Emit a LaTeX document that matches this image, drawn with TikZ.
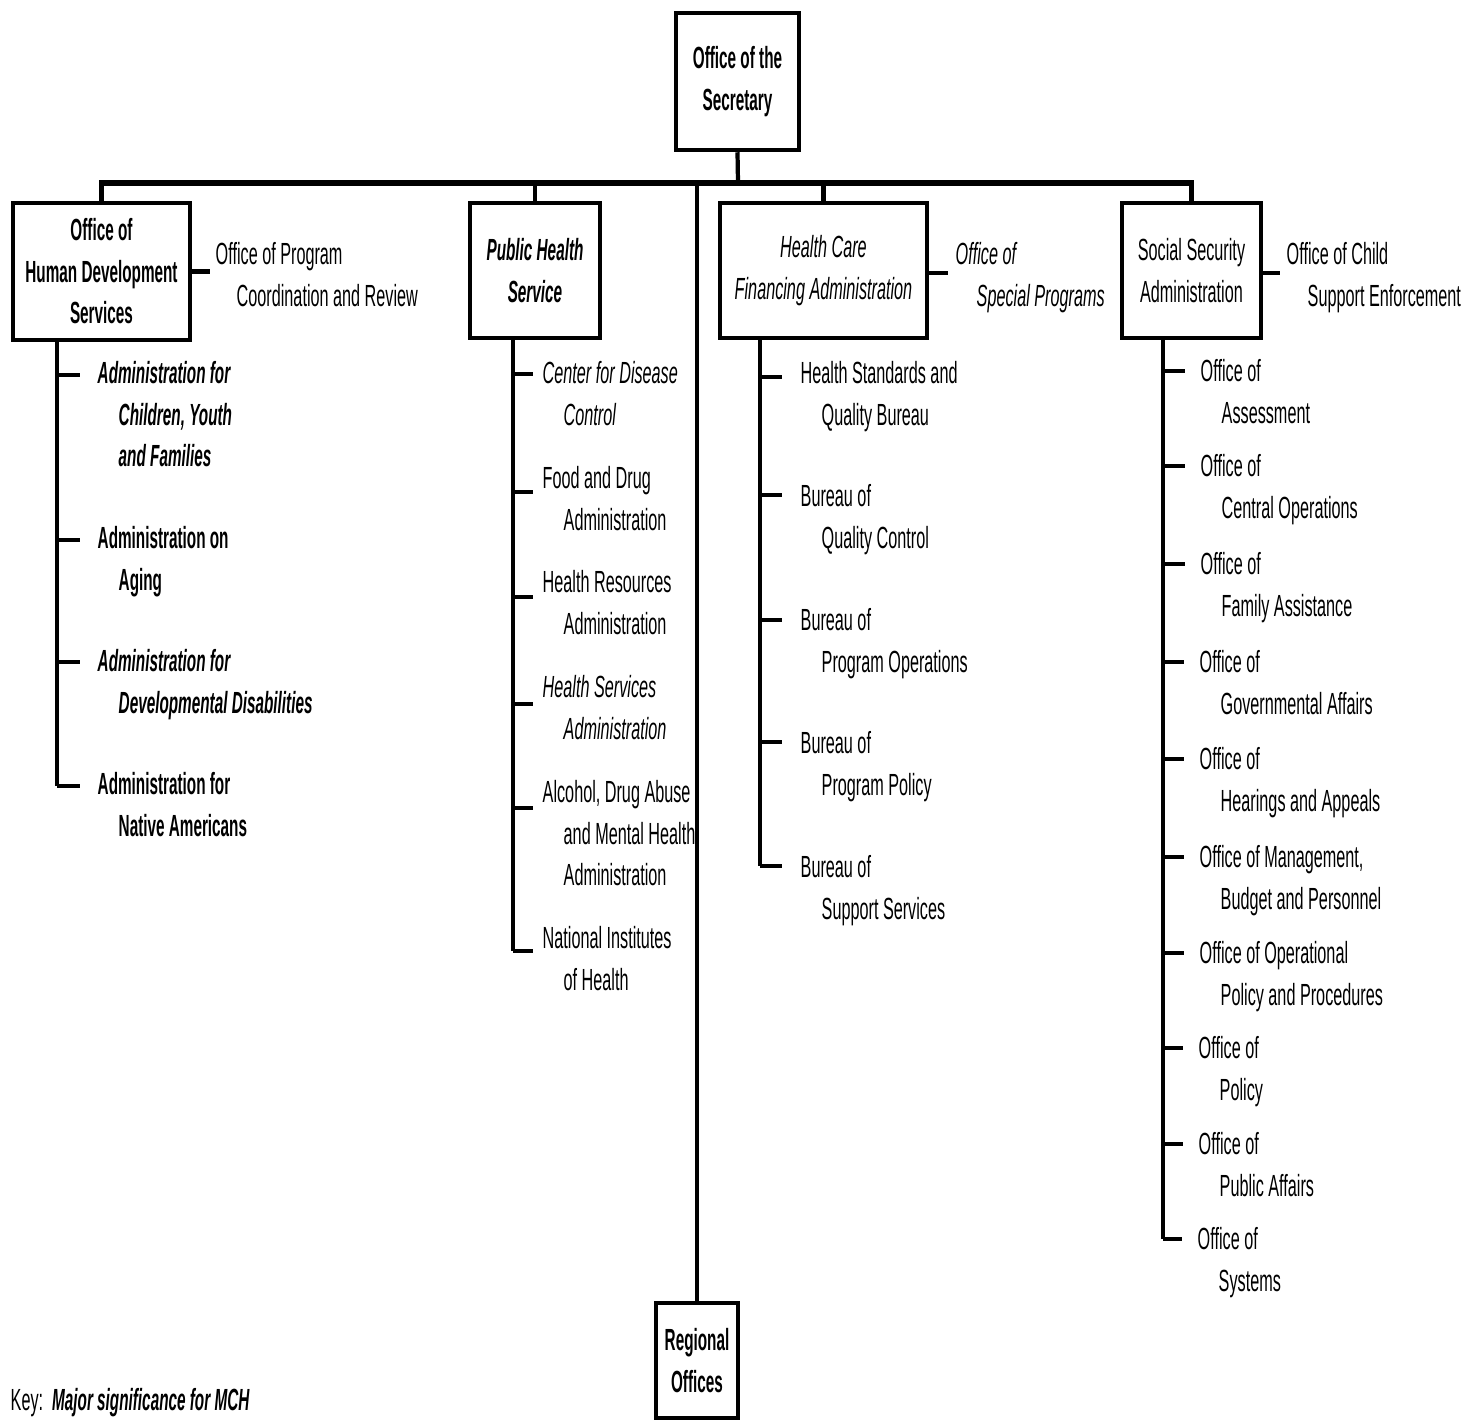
\documentclass[tikz,border=0pt]{standalone}
\usepackage{fontspec}
\setmainfont[FakeStretch=0.53,
  BoldFeatures={FakeStretch=0.5},
  BoldItalicFeatures={FakeStretch=0.5}]{Liberation Sans}
\usetikzlibrary{calc}
\newcommand\fs{\fontsize{8.7}{11.8}\selectfont}
\newcommand\ind{\hspace*{2.1mm}}
% tick from trunk to item: #1 item node, #2 trunk coordinate, #3 x offset, #4 y offset
\newcommand\kidtick[4]{%
  \coordinate (#1-t) at ($(#1.north west)+(#3,#4)$);
  \draw[listline] (#2 |- #1-t) -- (#1-t);}
\begin{document}
\begin{tikzpicture}[x=0.01cm, y=-0.01cm, font=\fs,
  box/.style={draw, line width=1.25pt, align=center, inner sep=0pt},
  lbl/.style={anchor=north west, align=left, inner sep=0pt},
  bf/.style={font=\fs\bfseries},
  it/.style={font=\fs\itshape},
  bi/.style={font=\fs\bfseries\itshape},
  conn/.style={line width=1.2pt},
  barline/.style={line width=1.5pt},
  listline/.style={line width=1pt}]
\fill[white] (0,0) rectangle (1470,1420);
\useasboundingbox (0,0) rectangle (1470,1420);

% top-level boxes
\node[box, bf, minimum width=1.23cm, minimum height=1.37cm] (sec) at (737.5,81.5) {Office of the\\Secretary};
\node[box, bf, minimum width=1.77cm, minimum height=1.37cm] (hds) at (101.5,271.5) {Office of\\Human Development\\Services};
\node[box, bi, minimum width=1.30cm, minimum height=1.35cm] (phs) at (535,270.5) {Public Health\\Service};
\node[box, it, minimum width=2.07cm, minimum height=1.35cm] (hcfa) at (823.5,270.5) {Health Care\\Financing Administration};
\node[box, minimum width=1.39cm, minimum height=1.35cm] (ssa) at (1191.5,270.5) {Social Security\\Administration};
\node[box, bf, minimum width=0.82cm, minimum height=1.15cm] (reg) at (697,1360.5) {Regional\\Offices};

% main connectors
\coordinate (bar) at (738,183);
\draw[conn] (sec.south) -- (bar);
\draw[barline] (hds.north) |- (bar) -| (ssa.north);
\draw[conn] (phs.north) -- (phs.north |- bar);
\draw[conn] (hcfa.north) -- (hcfa.north |- bar);
\draw[conn] (reg.north) -- (reg.north |- bar);

% side offices
\node[lbl] (opcr) at (215,242) {Office of Program\\\ind Coordination and Review};
\node[lbl, it] (osp) at (955,242) {Office of\\\ind Special Programs};
\node[lbl] (ocse) at (1286,242) {Office of Child\\\ind Support Enforcement};
\draw[conn] (hds.east) -- ([xshift=-0.05cm]hds.east -| opcr.west);
\draw[conn] ([yshift=-0.025cm]hcfa.east) -- ([xshift=-0.07cm,yshift=-0.025cm]hcfa.east -| osp.west);
\draw[conn] ([yshift=-0.025cm]ssa.east) -- ([xshift=-0.06cm,yshift=-0.025cm]ssa.east -| ocse.west);

% HDS list
\coordinate (hdsT) at ($(hds.south)+(-44.5,0)$);
\node[lbl, bi] (h1) at (97,361) {Administration for\\\ind Children, Youth\\\ind and Families};
\node[lbl, bf] (h2) at (97,526) {Administration on\\\ind Aging};
\node[lbl, bi] (h3) at (97,649) {Administration for\\\ind Developmental Disabilities};
\node[lbl, bf] (h4) at (97,772) {Administration for\\\ind Native Americans};
\kidtick{h1}{hdsT}{-17}{14}
\kidtick{h2}{hdsT}{-17}{14}
\kidtick{h3}{hdsT}{-17}{13}
\kidtick{h4}{hdsT}{-17}{14}
\draw[listline] (hdsT) -- (hdsT |- h4-t);

% PHS list
\coordinate (phsT) at ($(phs.south)+(-22,0)$);
\node[lbl, it] (p1) at (542,361) {Center for Disease\\\ind Control};
\node[lbl] (p2) at (542,466) {Food and Drug\\\ind Administration};
\node[lbl] (p3) at (542,570) {Health Resources\\\ind Administration};
\node[lbl, it] (p4) at (542,675) {Health Services\\\ind Administration};
\node[lbl] (p5) at (542,780) {Alcohol, Drug Abuse\\\ind and Mental Health\\\ind Administration};
\node[lbl] (p6) at (542,926) {National Institutes\\\ind of Health};
\kidtick{p1}{phsT}{-9}{13}
\kidtick{p2}{phsT}{-9}{26}
\kidtick{p3}{phsT}{-9}{27}
\kidtick{p4}{phsT}{-9}{29}
\kidtick{p5}{phsT}{-9}{28}
\kidtick{p6}{phsT}{-9}{25}
\draw[listline] (phsT) -- (phsT |- p6-t);

% HCFA list
\coordinate (hcfaT) at ($(hcfa.south)+(-63.5,0)$);
\node[lbl] (f1) at (800,361) {Health Standards and\\\ind Quality Bureau};
\node[lbl] (f2) at (800,484) {Bureau of\\\ind Quality Control};
\node[lbl] (f3) at (800,608) {Bureau of\\\ind Program Operations};
\node[lbl] (f4) at (800,731) {Bureau of\\\ind Program Policy};
\node[lbl] (f5) at (800,855) {Bureau of\\\ind Support Services};
\kidtick{f1}{hcfaT}{-18}{16}
\kidtick{f2}{hcfaT}{-18}{11}
\kidtick{f3}{hcfaT}{-18}{12}
\kidtick{f4}{hcfaT}{-18}{11}
\kidtick{f5}{hcfaT}{-18}{11}
\draw[listline] (hcfaT) -- (hcfaT |- f5-t);

% SSA list
\coordinate (ssaT) at ($(ssa.south)+(-28.5,0)$);
\node[lbl] (s1) at (1200,359) {Office of\\\ind Assessment};
\node[lbl] (s2) at (1200,454) {Office of\\\ind Central Operations};
\node[lbl] (s3) at (1200,552) {Office of\\\ind Family Assistance};
\node[lbl] (s4) at (1199,650) {Office of\\\ind Governmental Affairs};
\node[lbl] (s5) at (1199,747) {Office of\\\ind Hearings and Appeals};
\node[lbl] (s6) at (1199,845) {Office of Management,\\\ind Budget and Personnel};
\node[lbl] (s7) at (1199,941) {Office of Operational\\\ind Policy and Procedures};
\node[lbl] (s8) at (1198,1036) {Office of\\\ind Policy};
\node[lbl] (s9) at (1198,1132) {Office of\\\ind Public Affairs};
\node[lbl] (s10) at (1197,1227) {Office of\\\ind Systems};
\foreach \s in {s1,s2,s3,s4,s5,s6,s7,s8,s9,s10}{\kidtick{\s}{ssaT}{-15}{12}}
\draw[listline] (ssaT) -- (ssaT |- s10-t);

% key
\node[anchor=west, inner sep=0pt] (key) at (10,1403) {Key:\ \ \textbf{\textit{Major significance for MCH}}};
\end{tikzpicture}
\end{document}
